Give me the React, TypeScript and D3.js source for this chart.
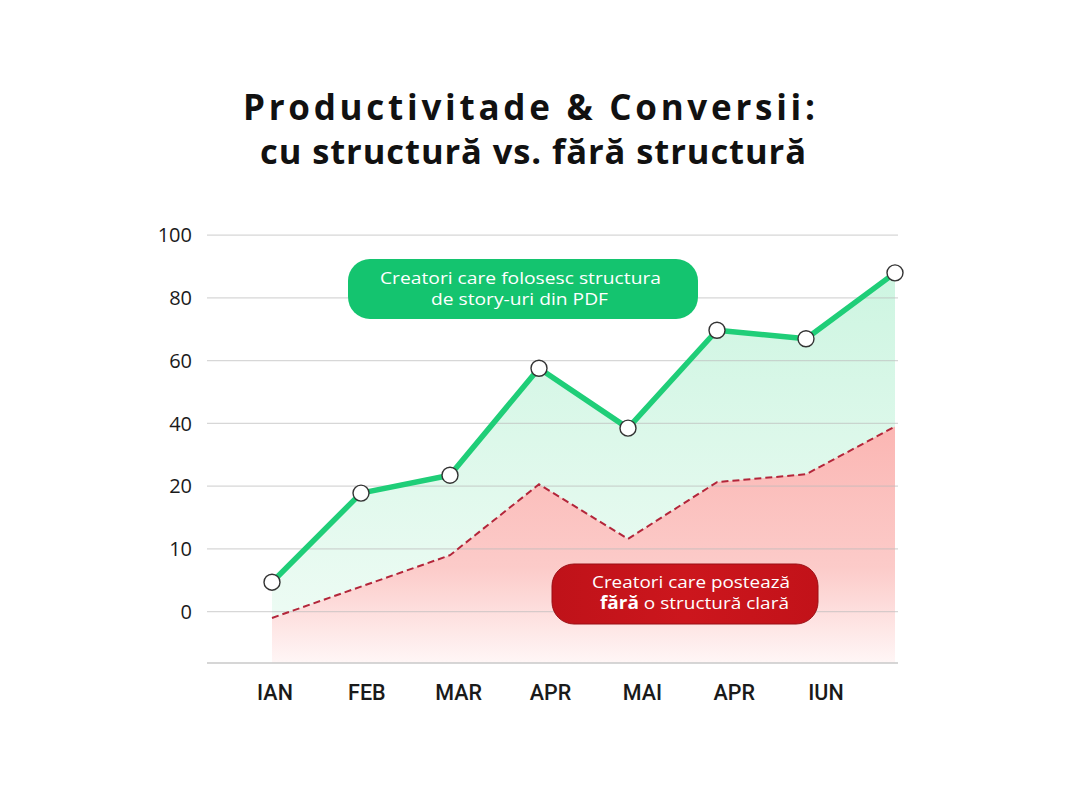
import React from "react";
import * as d3 from "d3";

// ---- data ----
const months = ["IAN", "FEB", "MAR", "APR", "MAI", "APR", "IUN"];
const yTicks = [0, 10, 20, 40, 60, 80, 100];
const withStructure = [4.7, 18.9, 23.5, 57.6, 38.5, 69.7, 67, 88];
const withoutStructure = [-1, 4, 9, 20.6, 11.6, 21.3, 23.8, 39];
const titleLines = ["Productivitade & Conversii:", "cu structură vs. fără structură"];
const greenLabel = ["Creatori care folosesc structura", "de story-uri din PDF"];
const redLabel1 = "Creatori care postează";
const redLabel2Bold = "fără";
const redLabel2Rest = " o structură clară";

const W = 1080;
const H = 800;

export default function App() {
  const gridLeft = 207;
  const gridRight = 898;
  const y0 = 611.7;
  const step = 62.75;
  const plotBottom = 663;

  const y = d3
    .scaleLinear()
    .domain(yTicks)
    .range(yTicks.map((_, i) => y0 - i * step));
  const x = d3.scaleLinear().domain([0, withStructure.length - 1]).range([272, 895]);
  const xl = d3.scalePoint<number>().domain(d3.range(months.length)).range([275, 826]);

  const line = d3
    .line<number>()
    .x((_, i) => x(i))
    .y((d) => y(d));
  const area = d3
    .area<number>()
    .x((_, i) => x(i))
    .y0(plotBottom)
    .y1((d) => y(d));

  const font = "'Open Sans', 'Noto Sans', sans-serif";

  return (
    <svg
      width={W}
      height={H}
      viewBox={`0 0 ${W} ${H}`}
      style={{ position: "absolute", left: 0, top: 0, background: "#fff" }}
    >
      <defs>
        <linearGradient id="gGreen" gradientUnits="userSpaceOnUse" x1="0" y1="270" x2="0" y2={plotBottom}>
          <stop offset="0" stopColor="#cdf5e1" />
          <stop offset="1" stopColor="#f1fcf6" />
        </linearGradient>
        <linearGradient id="gRed" gradientUnits="userSpaceOnUse" x1="0" y1="425" x2="0" y2={plotBottom}>
          <stop offset="0" stopColor="#fbb6b3" />
          <stop offset="0.6" stopColor="#fccbc9" />
          <stop offset="1" stopColor="#fff6f6" />
        </linearGradient>
        <linearGradient id="gRedBox" x1="0" y1="0" x2="1" y2="0">
          <stop offset="0" stopColor="#bf1219" />
          <stop offset="0.5" stopColor="#cc161d" />
          <stop offset="1" stopColor="#c21219" />
        </linearGradient>
      </defs>
      <rect width={W} height={H} fill="#fff" />

      {/* title */}
      <g fontFamily={font} fontWeight={700} fill="#111">
        <text x={243} y={120} fontSize={35} textLength={572} lengthAdjust="spacing">
          {titleLines[0]}
        </text>
        <text x={260} y={164} fontSize={34.5} textLength={546} lengthAdjust="spacing">
          {titleLines[1]}
        </text>
      </g>

      {/* areas */}
      <path d={area(withStructure) || ""} fill="url(#gGreen)" />
      <path d={area(withoutStructure) || ""} fill="url(#gRed)" />

      {/* grid */}
      {yTicks.map((t) => (
        <g key={t}>
          <line x1={gridLeft} x2={gridRight} y1={y(t)} y2={y(t)} stroke="#bdbdbd" strokeOpacity={0.6} strokeWidth={1.2} />
          <text
            x={192}
            y={y(t)}
            dy="0.36em"
            textAnchor="end"
            fontFamily={font}
            fontWeight={500}
            fontSize={20}
            fill="#1a1a1a"
          >
            {t}
          </text>
        </g>
      ))}
      <line x1={gridLeft} x2={gridRight} y1={plotBottom} y2={plotBottom} stroke="#c8c8c8" strokeWidth={1.4} />

      {/* x labels */}
      {months.map((m, i) => (
        <text
          key={i}
          x={xl(i)}
          y={700}
          textAnchor="middle"
          fontFamily="Roboto, sans-serif"
          fontWeight={500}
          fontSize={21.5}
          fill="#1a1a1a"
        >
          {m}
        </text>
      ))}

      {/* red dashed line */}
      <path
        d={line(withoutStructure) || ""}
        fill="none"
        stroke="#b3263a"
        strokeWidth={2}
        strokeDasharray="7 4"
      />

      {/* green line */}
      <path d={line(withStructure) || ""} fill="none" stroke="#1fce78" strokeWidth={5.5} strokeLinejoin="round" />
      {withStructure.map((d, i) => (
        <circle key={i} cx={x(i)} cy={y(d)} r={8} fill="#fff" stroke="#333" strokeWidth={1.4} />
      ))}

      {/* green label */}
      <g>
        <rect x={348} y={259} width={350} height={60} rx={22} fill="#14c46f" />
        <g fontFamily={font} fontWeight={500} fontSize={17} fill="#fff" textAnchor="middle">
          <text x={520.5} y={284} textLength={281} lengthAdjust="spacingAndGlyphs">{greenLabel[0]}</text>
          <text x={519.5} y={305} textLength={177} lengthAdjust="spacingAndGlyphs">{greenLabel[1]}</text>
        </g>
      </g>

      {/* red label */}
      <g>
        <rect x={552} y={564} width={266} height={60} rx={22} fill="url(#gRedBox)" stroke="#9a0f14" strokeWidth={1} />
        <g fontFamily={font} fontWeight={500} fontSize={17} fill="#fff" textAnchor="middle">
          <text x={691} y={588} textLength={198} lengthAdjust="spacingAndGlyphs">{redLabel1}</text>
          <text x={694.5} y={609} textLength={189} lengthAdjust="spacingAndGlyphs">
            <tspan fontWeight={700}>{redLabel2Bold}</tspan>
            <tspan>{redLabel2Rest}</tspan>
          </text>
        </g>
      </g>
    </svg>
  );
}
